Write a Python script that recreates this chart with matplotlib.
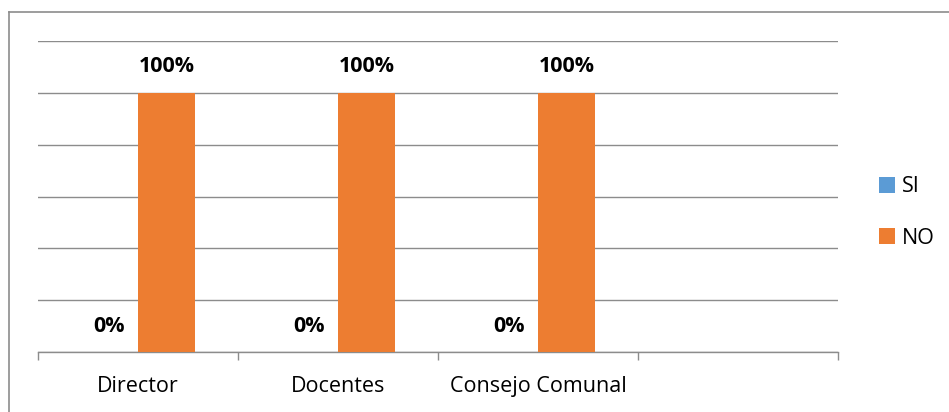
import matplotlib
matplotlib.use("Agg")
import matplotlib.pyplot as plt
from matplotlib.patches import Patch
from matplotlib.lines import Line2D
import numpy as np

categories = ["Director", "Docentes", "Consejo Comunal", ""]
si_values = [0.0, 0.0, 0.0, None]
no_values = [1.0, 1.0, 1.0, None]
series_names = ["SI", "NO"]
colors = ["#5B9BD5", "#ED7D31"]

plt.rcParams['font.family'] = ['Open Sans', 'DejaVu Sans']

fig = plt.figure(figsize=(9.49, 4.12), dpi=100)
ax = fig.add_axes([38/949, 1-352/412, 800/949, (352-41)/412])

# figure border (only top and left visible)
fig.lines.append(Line2D([8.5/949, 1.0], [1-11.5/412, 1-11.5/412], transform=fig.transFigure,
                        color="#8c8c8c", linewidth=1.2))
fig.lines.append(Line2D([8.5/949, 8.5/949], [0, 1-11.5/412], transform=fig.transFigure,
                        color="#8c8c8c", linewidth=1.2))

x = np.arange(len(categories))
w = 0.285
fs = 15.5
for i, (vals, name, c) in enumerate(zip([si_values, no_values], series_names, colors)):
    off = (-0.5 + i) * w
    for xi, v in zip(x, vals):
        if v is None:
            continue
        ax.bar(xi + off, v, width=w, color=c, zorder=3)
        ax.annotate(f"{v*100:.0f}%", (xi + off, v), xytext=(0, 26),
                    textcoords="offset pixels", ha="center", va="center",
                    fontsize=fs, fontweight="bold", color="#000000", zorder=4)

ax.set_xlim(-0.5, len(categories) - 0.5)
ax.set_ylim(0, 1.2)
ax.set_yticks(np.arange(0, 1.21, 0.2))
ax.set_yticklabels([])
ax.tick_params(axis='y', length=0)
ax.yaxis.grid(True, color="#8c8c8c", linewidth=1.0, zorder=0)
ax.set_axisbelow(True)

ax.set_xticks(np.arange(-0.5, len(categories), 1.0))
ax.set_xticklabels([])
ax.tick_params(axis='x', which='major', length=6, color="#8c8c8c", width=1.0, direction='out')
ax.set_xticks(x, minor=True)
ax.set_xticklabels(categories, minor=True, fontsize=fs)
ax.tick_params(axis='x', which='minor', length=0, pad=17)

for s in ["top", "right", "left"]:
    ax.spines[s].set_visible(False)
ax.spines["bottom"].set_color("#8c8c8c")
ax.spines["bottom"].set_linewidth(1.0)

handles = [Patch(facecolor=c, edgecolor='none') for c in colors]
fig.legend(handles, series_names, loc="center left", bbox_to_anchor=(879/949, 1-212.5/412),
           frameon=False, fontsize=fs, handlelength=0.75, handleheight=0.75,
           handletextpad=0.33, labelspacing=1.42, borderaxespad=0, borderpad=0)

fig.savefig("out.png", dpi=100)
